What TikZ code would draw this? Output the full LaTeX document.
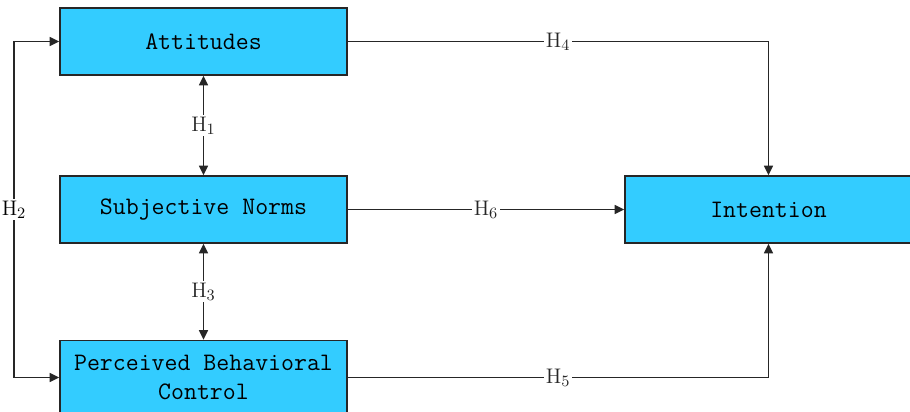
\documentclass[tikz,border=0pt]{standalone}
\usepackage{tikz}
\usetikzlibrary{arrows.meta,positioning}

\begin{document}
\begin{tikzpicture}[
  con/.style={draw=black!85, line width=0.8pt, fill={rgb,255:red,51;green,204;blue,255},
              minimum width=5.74cm, minimum height=1.34cm, align=center,
              font=\ttfamily\fontsize{14.3}{17}\selectfont, inner sep=2pt},
  arr/.style={-{Triangle[length=5.5pt,width=5pt]}, line width=1.1pt, black!85},
  darr/.style={{Triangle[length=5.5pt,width=5pt]}-{Triangle[length=5.5pt,width=5pt]},
               line width=1.1pt, black!85},
  hyp/.style={fill=white, inner sep=1pt, font=\fontsize{13}{15}\selectfont},
]
\useasboundingbox (0,0) rectangle (18.2,8.22);

% constructs
\node[con] (att) at (4.07,7.39) {Attitudes};
\node[con] (sn)  at (4.07,4.03) {Subjective Norms};
\node[con, minimum height=1.48cm] (pbc) at (4.07,0.67) {Perceived Behavioral\\Control};
\node[con] (int) at (15.37,4.03) {Intention};

% correlations between predictors
\draw[darr] (att.south) -- node[hyp] {$\mathrm{H}_1$} (sn.north);
\draw[darr] (sn.south) -- node[hyp] {$\mathrm{H}_3$} (pbc.north);
\coordinate (lft) at (0.28,4.03);
\draw[darr] (att.west) -| (lft) |- (pbc.west);
\node[hyp] (h2) at (lft) {$\mathrm{H}_2$};

% paths to intention
\draw[arr] (att.east) -| node[hyp, pos=0.25] {$\mathrm{H}_4$} (int.north);
\draw[arr] (sn.east) -- node[hyp, pos=0.5] {$\mathrm{H}_6$} (int.west);
\draw[arr] (pbc.east) -| node[hyp, pos=0.25] {$\mathrm{H}_5$} (int.south);
\end{tikzpicture}
\end{document}
